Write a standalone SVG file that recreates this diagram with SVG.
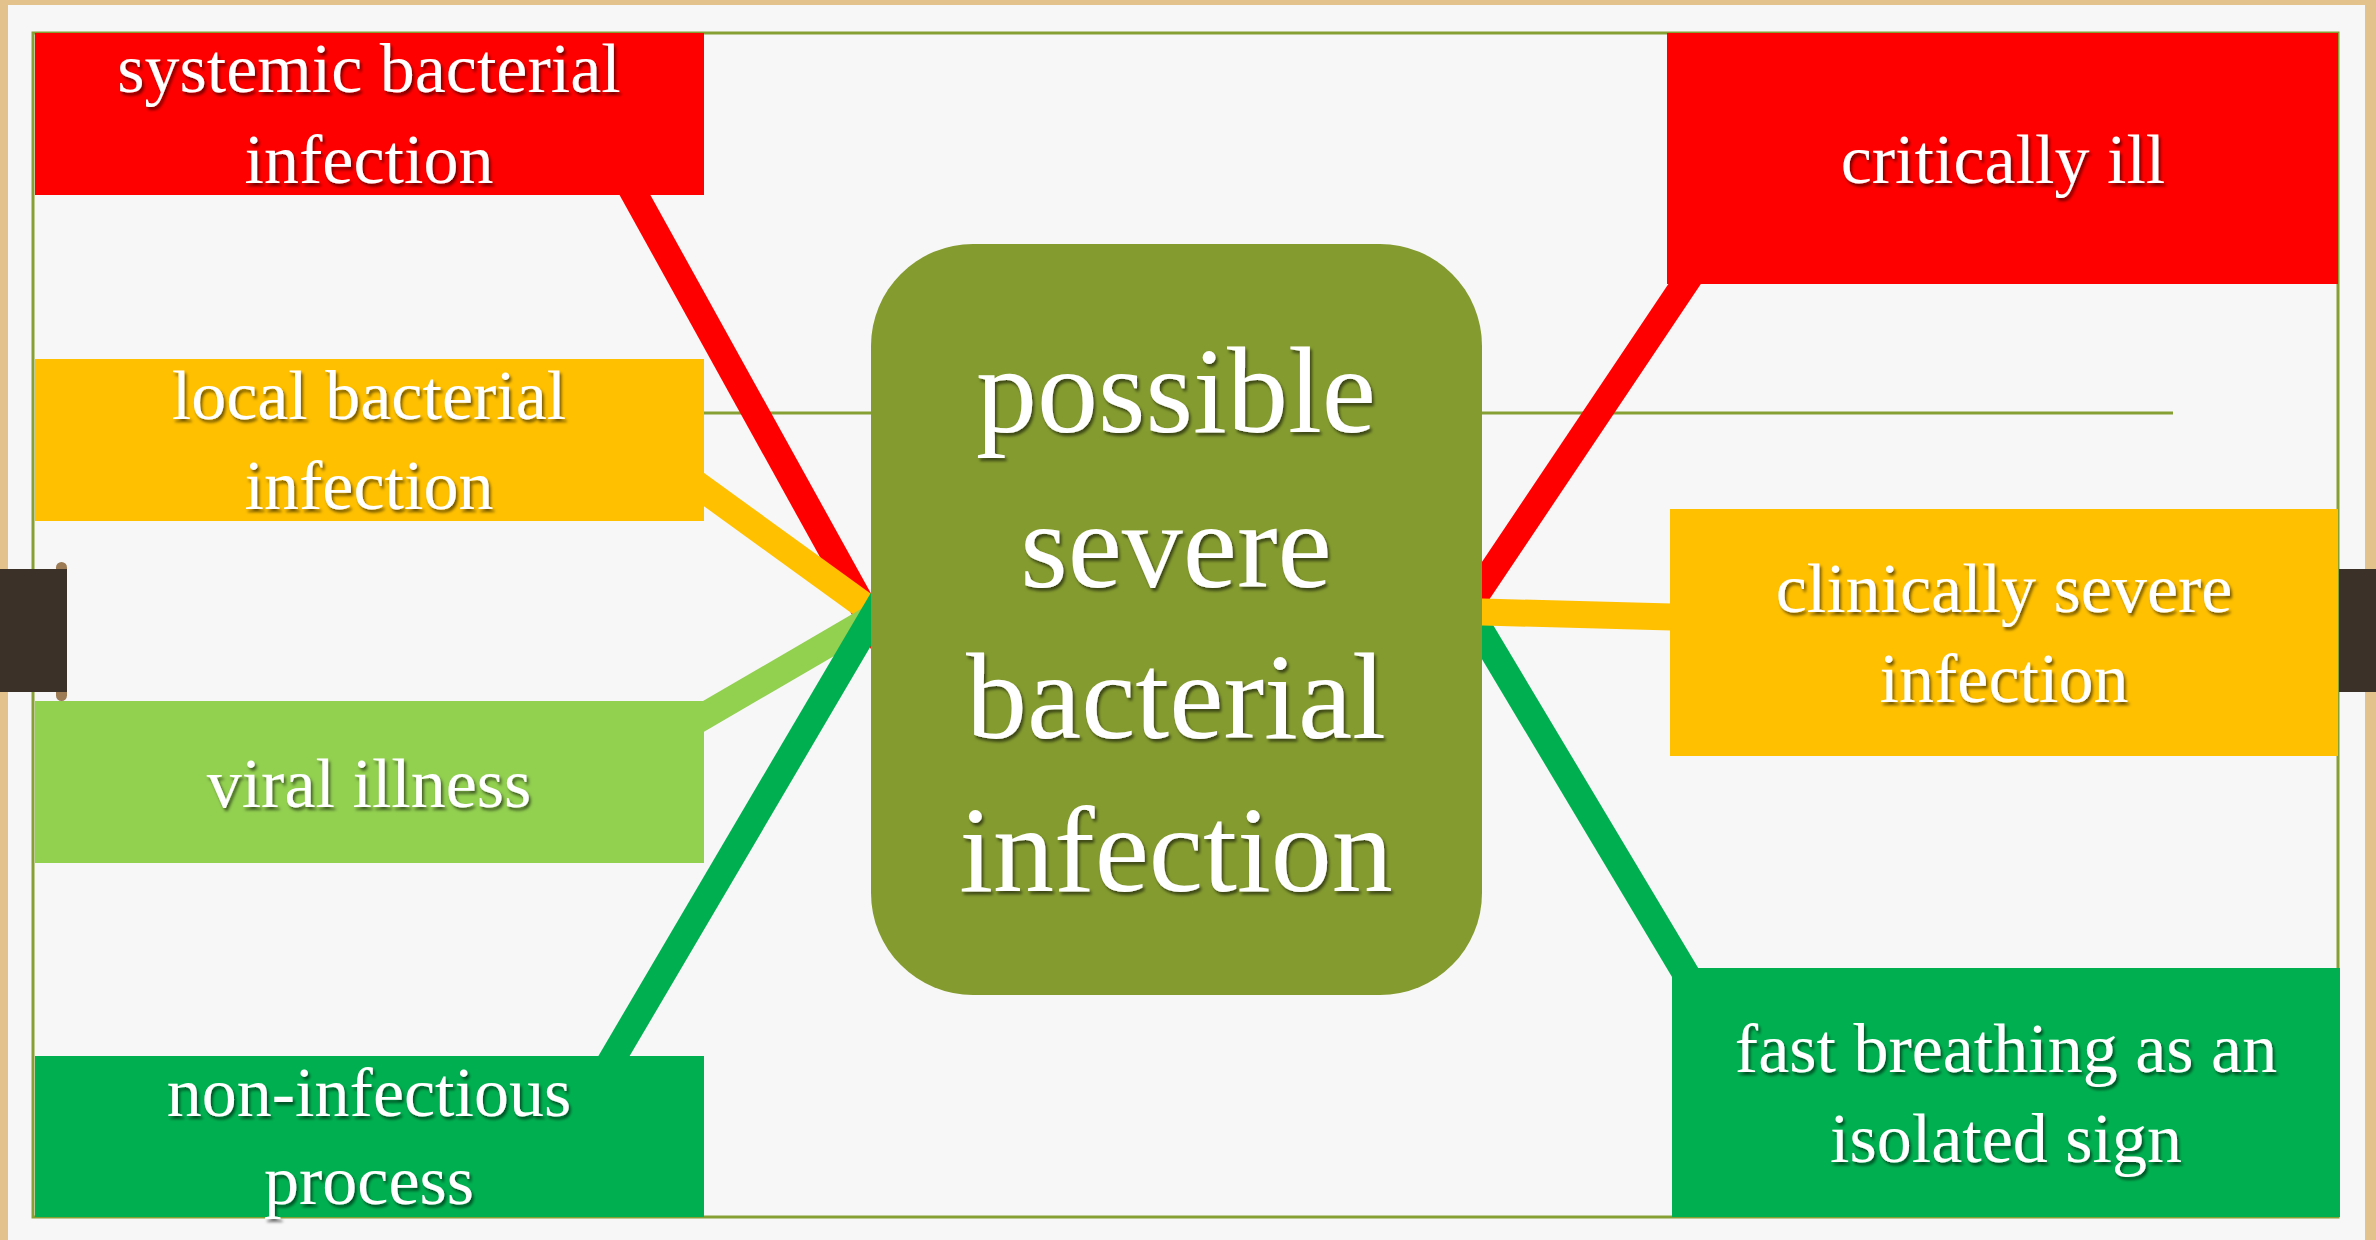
<svg xmlns="http://www.w3.org/2000/svg" width="2376" height="1240" viewBox="0 0 2376 1240">
  <defs>
    <filter id="sh" x="-10%" y="-20%" width="120%" height="150%">
      <feDropShadow dx="2" dy="3" stdDeviation="1.6" flood-color="#000" flood-opacity="0.55"/>
    </filter>
    <style>
      .lbl { font-family: "Liberation Serif", "DejaVu Serif", serif; font-size: 70px; fill: #ffffff; text-anchor: middle; filter: url(#sh); }
      .ctr { font-family: "Liberation Serif", "DejaVu Serif", serif; font-size: 122px; fill: #ffffff; text-anchor: middle; filter: url(#sh); }
      .con { fill: none; stroke-width: 27; stroke-linecap: butt; }
      .red { fill: #FF0000; }
      .yel { fill: #FFC000; }
      .lgr { fill: #92D050; }
      .dgr { fill: #00B050; }
    </style>
  </defs>

  <!-- background: wood edge and paper -->
  <rect x="0" y="0" width="2376" height="1240" fill="#E4C28C"/>
  <rect x="8" y="5" width="2357" height="1240" fill="#F7F7F7"/>

  <!-- frame -->
  <rect x="33" y="33" width="2305" height="1184" fill="none" stroke="#86A033" stroke-width="3"/>
  <line x1="704" y1="413" x2="2173" y2="413" stroke="#86A033" stroke-width="3"/>

  <!-- connectors -->
  <g id="connectors">
    <line class="con" x1="625" y1="177" x2="883" y2="643" stroke="#FF0000"/>
    <line class="con" x1="688" y1="478" x2="891" y2="625" stroke="#FFC000"/>
    <line class="con" x1="687" y1="726" x2="893" y2="606" stroke="#92D050"/>
    <line class="con" x1="604" y1="1073" x2="884" y2="597" stroke="#00B050"/>
    <line class="con" x1="1696" y1="267" x2="1468" y2="607" stroke="#FF0000"/>
    <line class="con" x1="1692" y1="984" x2="1469" y2="611" stroke="#00B050"/>
    <line class="con" x1="1690" y1="617.5" x2="1457" y2="611.3" stroke="#FFC000"/>
  </g>

  <!-- left nodes -->
  <g id="systemic">
    <rect class="red" x="35" y="33" width="669" height="162"/>
    <text class="lbl" x="369" y="92">systemic bacterial</text>
    <text class="lbl" x="369" y="183">infection</text>
  </g>
  <g id="local">
    <rect class="yel" x="35" y="359" width="669" height="162"/>
    <text class="lbl" x="369" y="419">local bacterial</text>
    <text class="lbl" x="369" y="509">infection</text>
  </g>
  <g id="viral">
    <rect class="lgr" x="35" y="701" width="669" height="162"/>
    <text class="lbl" x="369" y="807">viral illness</text>
  </g>
  <g id="noninfectious">
    <rect class="dgr" x="35" y="1056" width="669" height="161"/>
    <text class="lbl" x="369" y="1116">non-infectious</text>
    <text class="lbl" x="369" y="1204">process</text>
  </g>

  <!-- right nodes -->
  <g id="critically">
    <rect class="red" x="1667" y="33" width="671" height="251"/>
    <text class="lbl" x="2003" y="183">critically ill</text>
  </g>
  <g id="clinically">
    <rect class="yel" x="1670" y="509" width="668" height="247"/>
    <text class="lbl" x="2004" y="612">clinically severe</text>
    <text class="lbl" x="2004" y="702">infection</text>
  </g>
  <g id="fastbreathing">
    <rect class="dgr" x="1672" y="968" width="668" height="249"/>
    <text class="lbl" x="2006" y="1072">fast breathing as an</text>
    <text class="lbl" x="2006" y="1162">isolated sign</text>
  </g>

  <!-- center node -->
  <g id="center">
    <rect x="871" y="244" width="611" height="751" rx="102" ry="102" fill="#849B2F"/>
    <text class="ctr" x="1176" y="432">possible</text>
    <text class="ctr" x="1176" y="587">severe</text>
    <text class="ctr" x="1176" y="738">bacterial</text>
    <text class="ctr" x="1176" y="891">infection</text>
  </g>

  <!-- binder tabs -->
  <rect x="56" y="562" width="11" height="139" rx="5.5" fill="#9C7B55"/>
  <rect x="0" y="569" width="67" height="123" fill="#3B3129"/>
  <rect x="2339" y="569" width="37" height="123" fill="#3B3129"/>
</svg>
